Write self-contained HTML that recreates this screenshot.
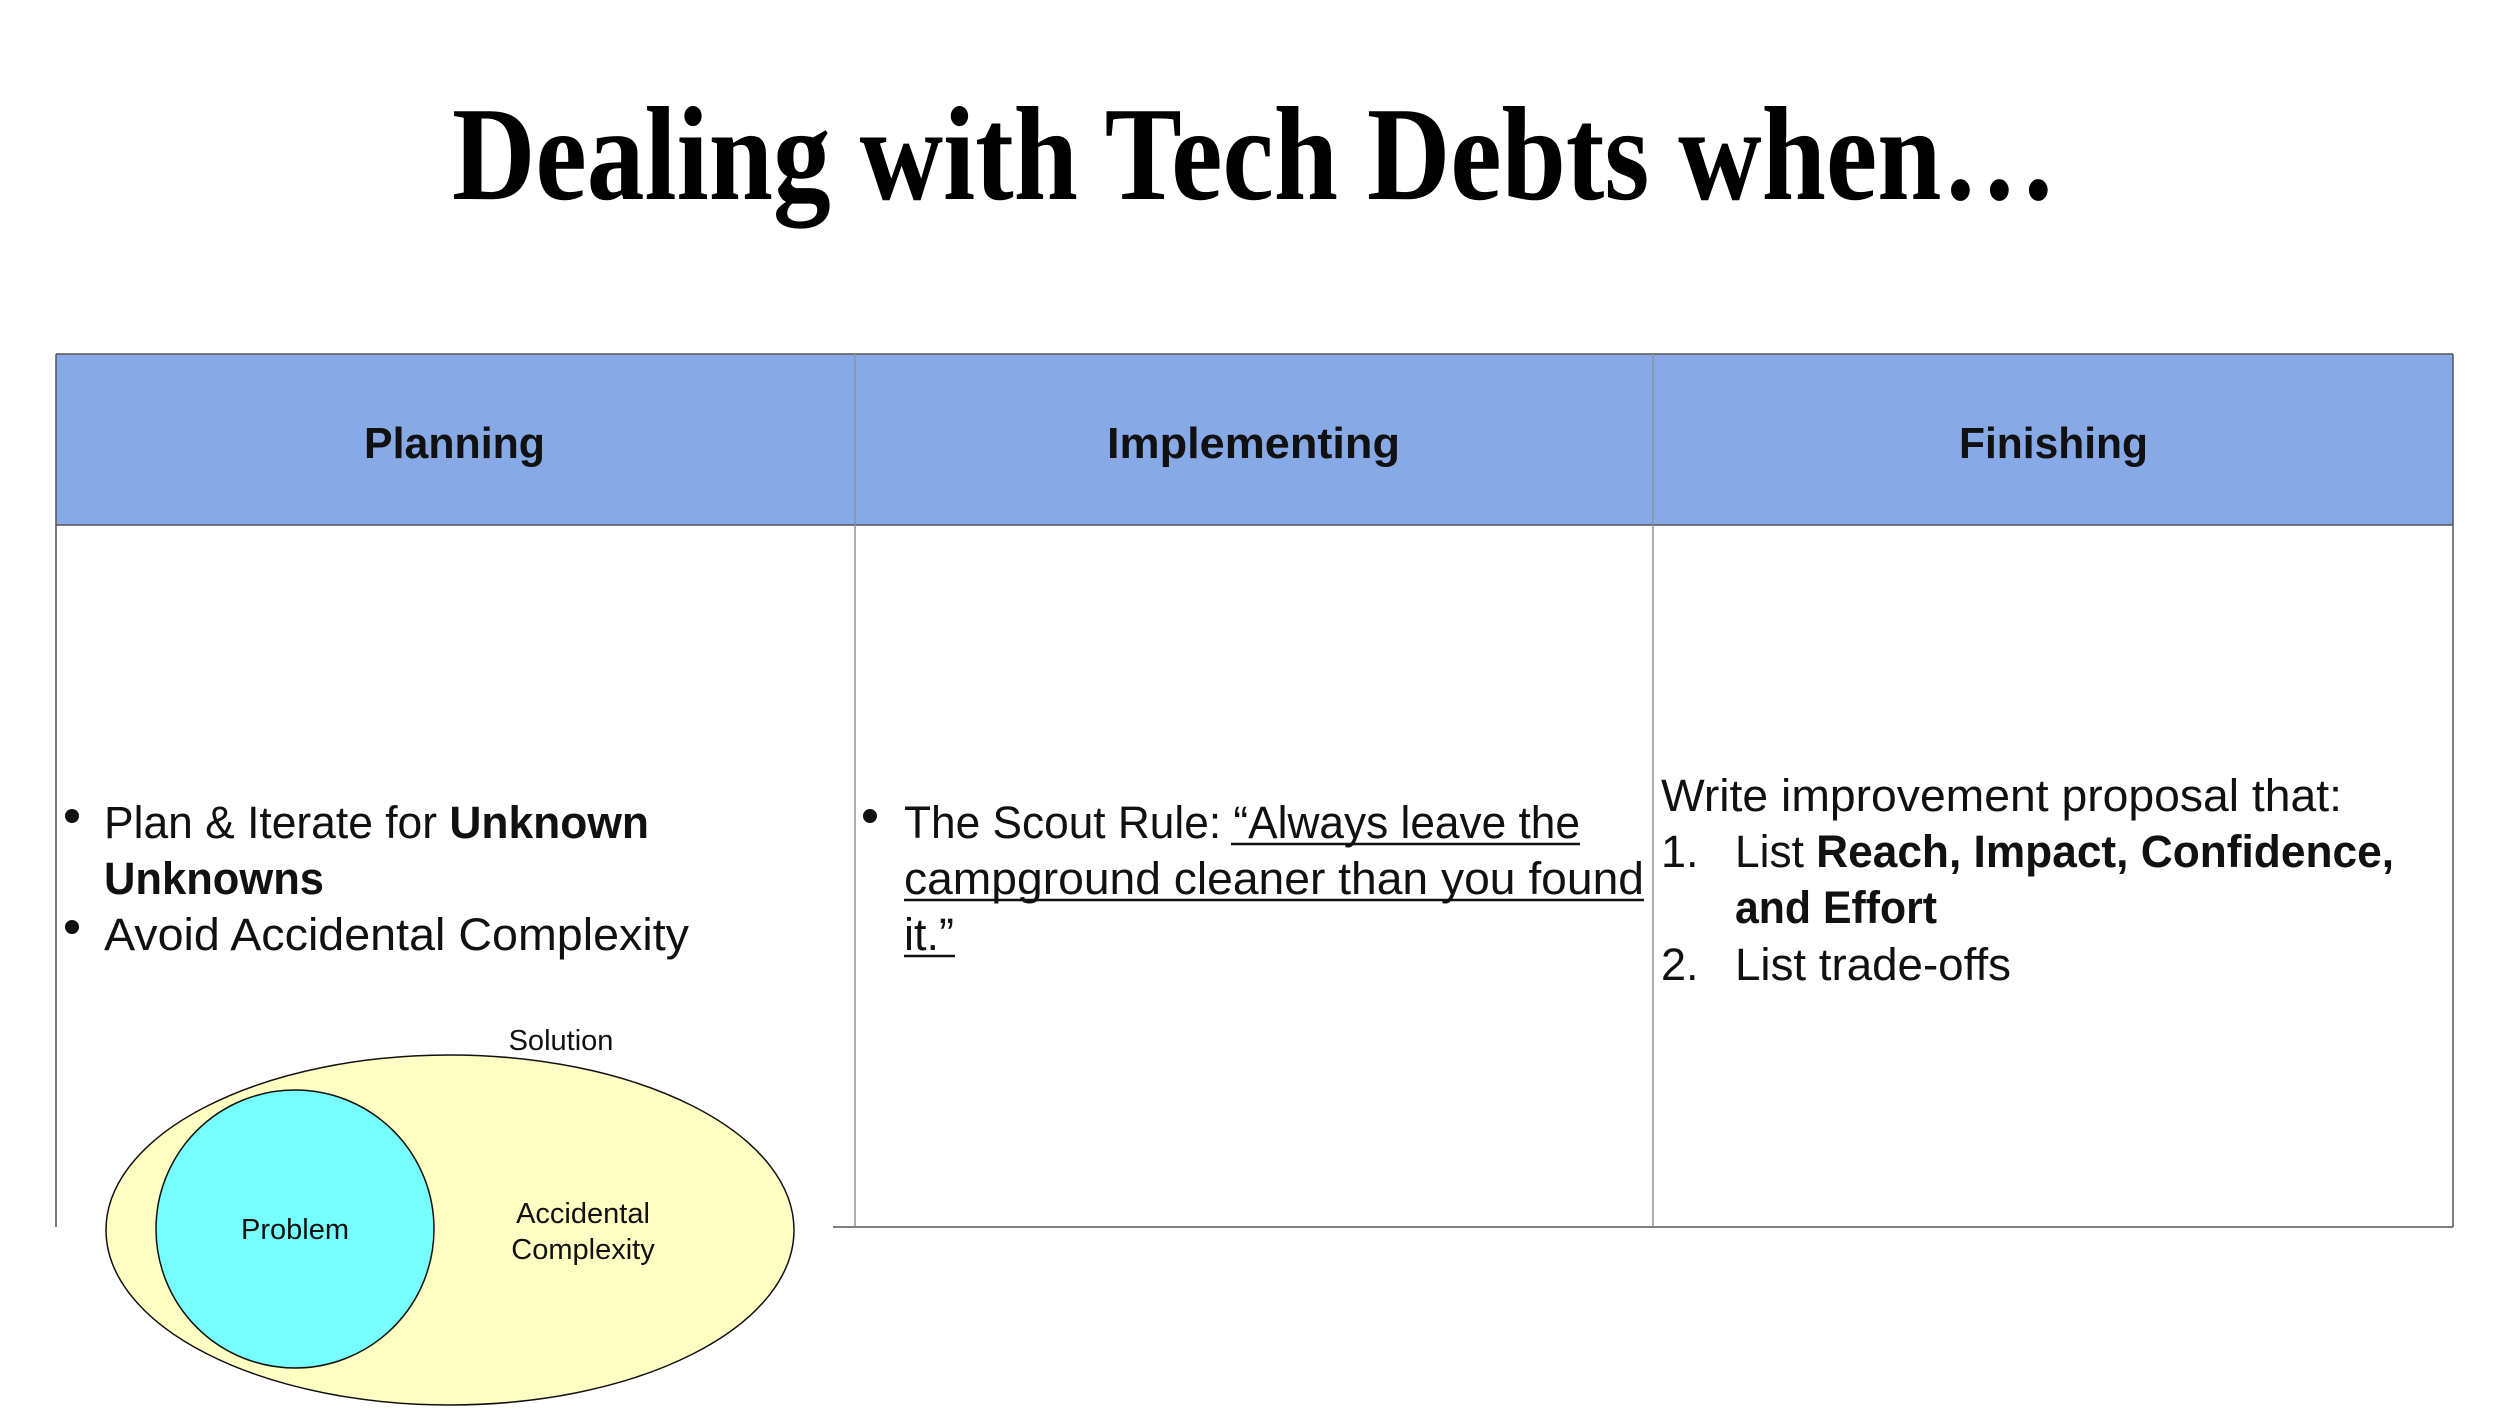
<!DOCTYPE html>
<html><head><meta charset="utf-8"><style>
html,body{margin:0;padding:0;background:#fff;}
svg{display:block;}
.s{font-family:"Liberation Sans",sans-serif;fill:#111;}
</style></head><body>
<svg width="2512" height="1424" viewBox="0 0 2512 1424" xmlns="http://www.w3.org/2000/svg">
<text x="452" y="199" textLength="1605" lengthAdjust="spacingAndGlyphs" font-family="Liberation Serif, serif" font-weight="bold" font-size="134" fill="#000">Dealing with Tech Debts when…</text>

<g>
<rect x="56" y="354" width="2397" height="171" fill="#87a9e6"/>
<g stroke="#555" stroke-width="1.5" fill="none">
<line x1="56" y1="354" x2="2453" y2="354"/>
<line x1="56" y1="525" x2="2453" y2="525"/>
<line x1="833" y1="1227" x2="2453" y2="1227"/>
<line x1="56" y1="354" x2="56" y2="1227"/>
<line x1="855" y1="354" x2="855" y2="1227" stroke="#8a93a3"/>
<line x1="1653" y1="354" x2="1653" y2="1227" stroke="#8a93a3"/>
<line x1="2453" y1="354" x2="2453" y2="1227"/>
</g>
<text class="s" x="364" y="458" textLength="181" lengthAdjust="spacingAndGlyphs" font-size="44" font-weight="bold">Planning</text>
<text class="s" x="1107" y="458" textLength="293" lengthAdjust="spacingAndGlyphs" font-size="44" font-weight="bold">Implementing</text>
<text class="s" x="1959" y="458" textLength="189" lengthAdjust="spacingAndGlyphs" font-size="44" font-weight="bold">Finishing</text>

<g>
<circle cx="72" cy="816" r="7" fill="#111"/>
<circle cx="72" cy="927" r="7" fill="#111"/>
<text class="s" x="104" y="838" textLength="545" lengthAdjust="spacingAndGlyphs" font-size="45">Plan &amp; Iterate for <tspan font-weight="bold">Unknown</tspan></text>
<text class="s" x="104" y="894" textLength="220" lengthAdjust="spacingAndGlyphs" font-size="45" font-weight="bold">Unknowns</text>
<text class="s" x="104" y="950" textLength="585" lengthAdjust="spacingAndGlyphs" font-size="45">Avoid Accidental Complexity</text>
</g>

<g>
<circle cx="870" cy="816" r="7" fill="#111"/>
<text class="s" x="904" y="838" textLength="676" lengthAdjust="spacingAndGlyphs" font-size="45">The Scout Rule: “Always leave the</text>
<text class="s" x="904" y="894" textLength="740" lengthAdjust="spacingAndGlyphs" font-size="45">campground cleaner than you found</text>
<text class="s" x="904" y="950" font-size="45">it.”</text>
<g stroke="#111" stroke-width="2.5">
<line x1="1231" y1="844" x2="1580" y2="844"/>
<line x1="904" y1="900" x2="1644" y2="900"/>
<line x1="904" y1="956" x2="955" y2="956"/>
</g>
</g>

<g>
<text class="s" x="1661" y="811" textLength="681" lengthAdjust="spacingAndGlyphs" font-size="45">Write improvement proposal that:</text>
<text class="s" x="1661" y="867" font-size="45">1.</text>
<text class="s" x="1735" y="867" textLength="659" lengthAdjust="spacingAndGlyphs" font-size="45">List <tspan font-weight="bold">Reach, Impact, Confidence,</tspan></text>
<text class="s" x="1735" y="923" textLength="202" lengthAdjust="spacingAndGlyphs" font-size="45" font-weight="bold">and Effort</text>
<text class="s" x="1661" y="980" font-size="45">2.</text>
<text class="s" x="1735" y="980" textLength="276" lengthAdjust="spacingAndGlyphs" font-size="45">List trade-offs</text>
</g>
</g>

<g>
<ellipse cx="450" cy="1230" rx="344" ry="175" fill="#ffffc4" stroke="#111" stroke-width="1.5"/>
<circle cx="295" cy="1229" r="139" fill="#77ffff" stroke="#111" stroke-width="1.5"/>
<text class="s" x="561" y="1050" text-anchor="middle" font-size="29">Solution</text>
<text class="s" x="295" y="1239" text-anchor="middle" font-size="29">Problem</text>
<text class="s" x="583" y="1223" text-anchor="middle" font-size="29">Accidental</text>
<text class="s" x="583" y="1259" text-anchor="middle" font-size="29">Complexity</text>
</g>
</svg>
</body></html>
